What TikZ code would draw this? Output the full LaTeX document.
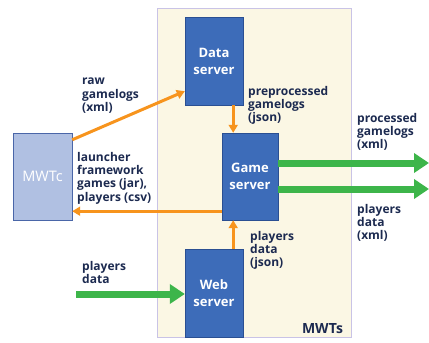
\documentclass[tikz,border=0pt]{standalone}
\usepackage{fontspec}
\setmainfont{Open Sans}
\usepackage{tikz}
\usetikzlibrary{arrows.meta}
\definecolor{mwtsback}{HTML}{FBF7E4}
\definecolor{mwtsline}{HTML}{C9C3E6}
\definecolor{srvblue}{HTML}{3D6CB9}
\definecolor{srvline}{HTML}{2A4F92}
\definecolor{clientblue}{HTML}{B0C0E2}
\definecolor{clientline}{HTML}{4A66A8}
\definecolor{flowgreen}{HTML}{3DB54A}
\definecolor{floworange}{HTML}{F7941D}
\definecolor{labelnavy}{HTML}{1C2A50}

\begin{document}
\begin{tikzpicture}[x=1pt,y=-1pt,
    server/.style={draw=srvline,fill=srvblue,text=white,font=\fontsize{13}{17}\selectfont\bfseries,
        align=center,minimum width=58pt,inner sep=0pt},
    client/.style={draw=clientline,fill=clientblue,text=white,font=\fontsize{14.5}{16}\selectfont,
        align=center,minimum width=59pt,inner sep=0pt},
    flowlabel/.style={anchor=north west,inner sep=0pt,align=left,text=labelnavy,
        font=\fontsize{12}{13.3}\selectfont\bfseries},
    oflow/.style={draw=floworange,line width=3pt,-{Triangle[length=8pt,width=9pt]}},
    gflow/.style={draw=flowgreen,line width=7pt,-{Triangle[length=15pt,width=19pt]}}]
    \useasboundingbox (0,0) rectangle (429,343);
        %MWTs area
    \node[draw=mwtsline,fill=mwtsback,minimum width=194pt,minimum height=329pt,inner sep=0pt] (mwts) at (254,172.5) {};
    \node[anchor=south east,inner sep=0pt,text=labelnavy,font=\fontsize{14}{16}\selectfont\bfseries] (mwtslbl)
        at ([xshift=-8pt,yshift=3pt]mwts.south east) {MWTs};
        %Boxes
    \node[server,minimum height=88pt] (data) at (214,61) {Data\\server};
    \node[server,minimum width=56pt,minimum height=87pt] (game) at (250,176.5) {Game\\server};
    \node[server,minimum height=88pt] (web) at (214,293) {Web\\server};
    \node[client,minimum height=87pt] (mwtc) at (42.5,176.5) {MWTc};
        %Orange flows
    \draw[oflow] ([yshift=-7pt]mwtc.north east) -- ([yshift=14pt]data.south west);
    \draw[oflow] ([xshift=-10pt]data.south east) -- ([xshift=-10pt]data.south east |- game.north);
    \draw[oflow] ([yshift=9pt]game.south west) -- ([yshift=9pt]game.south west -| mwtc.east);
    \draw[oflow] ([xshift=-10pt]web.north east) -- ([xshift=-10pt]web.north east |- game.south);
        %Green flows
    \coordinate (outgl) at (429,163);
    \coordinate (outpd) at (429,189);
    \coordinate (inpd) at (76,294);
    \draw[gflow] (game.east |- outgl) -- (outgl);
    \draw[gflow] (game.east |- outpd) -- (outpd);
    \draw[gflow] (inpd) -- (inpd -| web.west);
        %Labels
    \node[flowlabel] (rawlbl) at (82,78) {raw\\gamelogs\\(xml)};
    \node[flowlabel] (launchlbl) at (77,152) {launcher\\framework\\games (jar),\\players (csv)};
    \node[flowlabel] (prelbl) at (248,86) {preprocessed\\gamelogs\\(json)};
    \node[flowlabel] (proclbl) at (357,113) {processed\\gamelogs\\(xml)};
    \node[flowlabel] (pxmllbl) at (357,204) {players\\data\\(xml)};
    \node[flowlabel] (pjsonlbl) at (250,231) {players\\data\\(json)};
    \node[flowlabel] (pdatalbl) at (82,261) {players\\data};
\end{tikzpicture}
\end{document}
